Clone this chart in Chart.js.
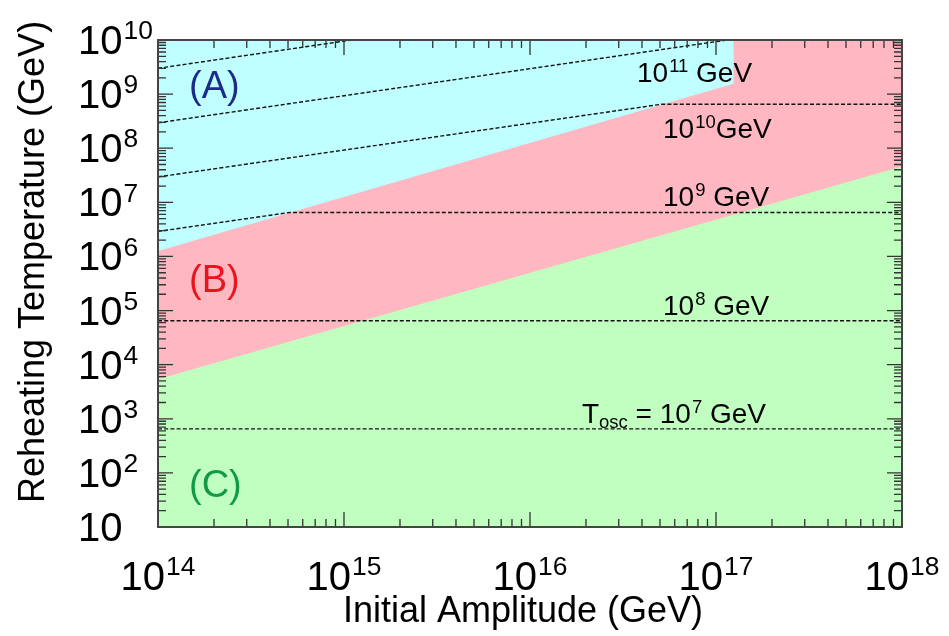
<!DOCTYPE html>
<html>
<head>
<meta charset="utf-8">
<script src="https://cdn.jsdelivr.net/npm/chart.js@4.4.1/dist/chart.umd.min.js"></script>
<style>
  html, body { margin: 0; padding: 0; background: #fff; }
  canvas { display: block; }
</style>
</head>
<body>
<canvas id="reheatChart" width="949" height="636"></canvas>
<script>
// axis ranges and tick exponents
const xRange = [1e14, 1e18];
const yRange = [10, 1e10];
const xTickExps = [14, 15, 16, 17, 18];
const yTickExps = [1, 2, 3, 4, 5, 6, 7, 8, 9, 10];
const minorSteps = [2, 3, 4, 5, 6, 7, 8, 9];

// region (A) : cyan, top edge
const regionAX = [1e14, 1.24e17];
const regionAY = [1e10, 1e10];
// region (B) : pink, upper edge (A/B boundary then full top)
const regionBX = [1e14, 1.24e17, 1.24e17, 1e18];
const regionBY = [1.26e6, 1.55e9, 1e10, 1e10];
// region (C) : green, B/C boundary
const regionCX = [1e14, 1e18];
const regionCY = [5.4e3, 4.6e7];

// T_osc contours (dashed)
const tosc7X = [1e14, 1e18];
const tosc7Y = [6.5e2, 6.5e2];
const tosc8X = [1e14, 1e18];
const tosc8Y = [6.5e4, 6.5e4];
const tosc9X = [1e14, 5.1e14, 1e18];
const tosc9Y = [2.9e6, 6.5e6, 6.5e6];
const tosc10X = [1e14, 5.1e16, 1e18];
const tosc10Y = [2.95e7, 6.5e8, 6.5e8];
const tosc11X = [1e14, 1.15e17];
const tosc11Y = [2.95e8, 1e10];
const tosc12X = [1e14, 1.1e15];
const tosc12Y = [3.0e9, 1e10];

// texts
const regionNames = ['(A)', '(B)', '(C)'];
const contourExps = ['11', '10', '9', '8', '7'];
const xTitle = 'Initial Amplitude (GeV)';
const yTitle = 'Reheating Temperature (GeV)';

const FONT = '"Liberation Sans", Arial, Helvetica, sans-serif';

function pts(xs, ys) {
  return xs.map((x, i) => ({ x: x, y: ys[i] }));
}

// draw a run of text pieces, some raised (sup) or lowered (sub)
function drawRich(ctx, pieces, x, y, size, align, color) {
  const small = size * 0.66;
  let total = 0;
  pieces.forEach(p => {
    ctx.font = (p.sup || p.sub ? small : size) + 'px ' + FONT;
    p.w = ctx.measureText(p.t).width + (p.gap || 0);
    total += p.w;
  });
  let cx = align === 'center' ? x - total / 2 : x;
  ctx.fillStyle = color;
  ctx.textAlign = 'left';
  ctx.textBaseline = 'alphabetic';
  pieces.forEach(p => {
    ctx.font = (p.sup || p.sub ? small : size) + 'px ' + FONT;
    let dy = 0;
    if (p.sup) dy = -size * 0.37;
    if (p.sub) dy = size * 0.17;
    ctx.fillText(p.t, cx, y + dy);
    cx += p.w;
  });
}

function dashed(xs, ys) {
  return {
    data: pts(xs, ys),
    borderColor: '#111',
    borderWidth: 1.4,
    borderDash: [4, 2.2],
    fill: false,
    pointRadius: 0,
    tension: 0,
    order: 1
  };
}

function region(xs, ys, color, order) {
  return {
    data: pts(xs, ys),
    backgroundColor: color,
    borderWidth: 0,
    borderColor: color,
    fill: 'start',
    pointRadius: 0,
    tension: 0,
    order: order
  };
}

const framePlugin = {
  id: 'frame',
  afterDatasetsDraw(chart) {
    const { ctx, chartArea: a, scales: { x, y } } = chart;
    ctx.save();
    ctx.strokeStyle = '#333';
    ctx.lineWidth = 1.3;
    ctx.beginPath();
    xTickExps.forEach(e => {
      const px = x.getPixelForValue(Math.pow(10, e));
      ctx.moveTo(px, a.bottom); ctx.lineTo(px, a.bottom - 15);
      ctx.moveTo(px, a.top); ctx.lineTo(px, a.top + 15);
      if (e < xTickExps[xTickExps.length - 1]) {
        minorSteps.forEach(k => {
          const mx = x.getPixelForValue(k * Math.pow(10, e));
          ctx.moveTo(mx, a.bottom); ctx.lineTo(mx, a.bottom - 8);
          ctx.moveTo(mx, a.top); ctx.lineTo(mx, a.top + 8);
        });
      }
    });
    yTickExps.forEach(e => {
      const py = y.getPixelForValue(Math.pow(10, e));
      ctx.moveTo(a.left, py); ctx.lineTo(a.left + 15, py);
      ctx.moveTo(a.right, py); ctx.lineTo(a.right - 15, py);
      if (e < yTickExps[yTickExps.length - 1]) {
        minorSteps.forEach(k => {
          const my = y.getPixelForValue(k * Math.pow(10, e));
          ctx.moveTo(a.left, my); ctx.lineTo(a.left + 8, my);
          ctx.moveTo(a.right, my); ctx.lineTo(a.right - 8, my);
        });
      }
    });
    ctx.stroke();
    ctx.strokeStyle = '#444';
    ctx.lineWidth = 2;
    ctx.strokeRect(a.left, a.top, a.right - a.left, a.bottom - a.top);
    ctx.restore();
  },
  afterDraw(chart) {
    const { ctx, chartArea: a, scales: { x, y } } = chart;
    ctx.save();
    // tick labels
    xTickExps.forEach(e => {
      const px = x.getPixelForValue(Math.pow(10, e));
      drawRich(ctx, [{ t: '10', gap: 1 }, { t: String(e), sup: true }], px, 590, 40, 'center', '#000');
    });
    yTickExps.forEach(e => {
      const py = y.getPixelForValue(Math.pow(10, e));
      const pieces = e === 1 ? [{ t: '10' }] : [{ t: '10', gap: 1 }, { t: String(e), sup: true }];
      drawRich(ctx, pieces, 78, py + 14, 40, 'left', '#000');
    });
    // axis titles
    ctx.fillStyle = '#000';
    ctx.font = '36px ' + FONT;
    ctx.textAlign = 'center';
    ctx.textBaseline = 'alphabetic';
    ctx.fillText(xTitle, 523, 622);
    ctx.translate(44, 262);
    ctx.rotate(-Math.PI / 2);
    ctx.fillText(yTitle, 0, 0);
    ctx.setTransform(1, 0, 0, 1, 0, 0);

    // region letters
    ctx.font = '38px ' + FONT;
    ctx.textAlign = 'left';
    ctx.fillStyle = '#1d2b8a';
    ctx.fillText(regionNames[0], 189, 98);
    ctx.fillStyle = '#e8141e';
    ctx.fillText(regionNames[1], 189, 292);
    ctx.fillStyle = '#109a46';
    ctx.fillText(regionNames[2], 189, 497);

    // contour labels
    const s = 28;
    drawRich(ctx, [{ t: '10', gap: 1 }, { t: contourExps[0], sup: true }, { t: ' GeV' }], 637, 82, s, 'left', '#000');
    drawRich(ctx, [{ t: '10', gap: 1 }, { t: contourExps[1], sup: true }, { t: 'GeV' }], 663, 138, s, 'left', '#000');
    drawRich(ctx, [{ t: '10', gap: 1 }, { t: contourExps[2], sup: true }, { t: ' GeV' }], 663, 206, s, 'left', '#000');
    drawRich(ctx, [{ t: '10', gap: 1 }, { t: contourExps[3], sup: true }, { t: ' GeV' }], 663, 315, s, 'left', '#000');
    drawRich(ctx, [{ t: 'T' }, { t: 'osc', sub: true }, { t: ' = ' }, { t: '10', gap: 1 }, { t: contourExps[4], sup: true }, { t: ' GeV' }], 582, 423, s, 'left', '#000');
    ctx.restore();
  }
};

new Chart(document.getElementById('reheatChart'), {
  type: 'line',
  data: {
    datasets: [
      region(regionAX, regionAY, '#bfffff', 5),
      region(regionBX, regionBY, '#ffb7c1', 4),
      region(regionCX, regionCY, '#c0ffc0', 3),
      dashed(tosc7X, tosc7Y),
      dashed(tosc8X, tosc8Y),
      dashed(tosc9X, tosc9Y),
      dashed(tosc10X, tosc10Y),
      dashed(tosc11X, tosc11Y),
      dashed(tosc12X, tosc12Y)
    ]
  },
  options: {
    responsive: false,
    animation: false,
    layout: { padding: { left: 158, top: 40, right: 47, bottom: 109 } },
    plugins: { legend: { display: false }, tooltip: { enabled: false } },
    scales: {
      x: { type: 'logarithmic', min: xRange[0], max: xRange[1], display: false },
      y: { type: 'logarithmic', min: yRange[0], max: yRange[1], display: false }
    }
  },
  plugins: [framePlugin]
});
</script>
</body>
</html>
